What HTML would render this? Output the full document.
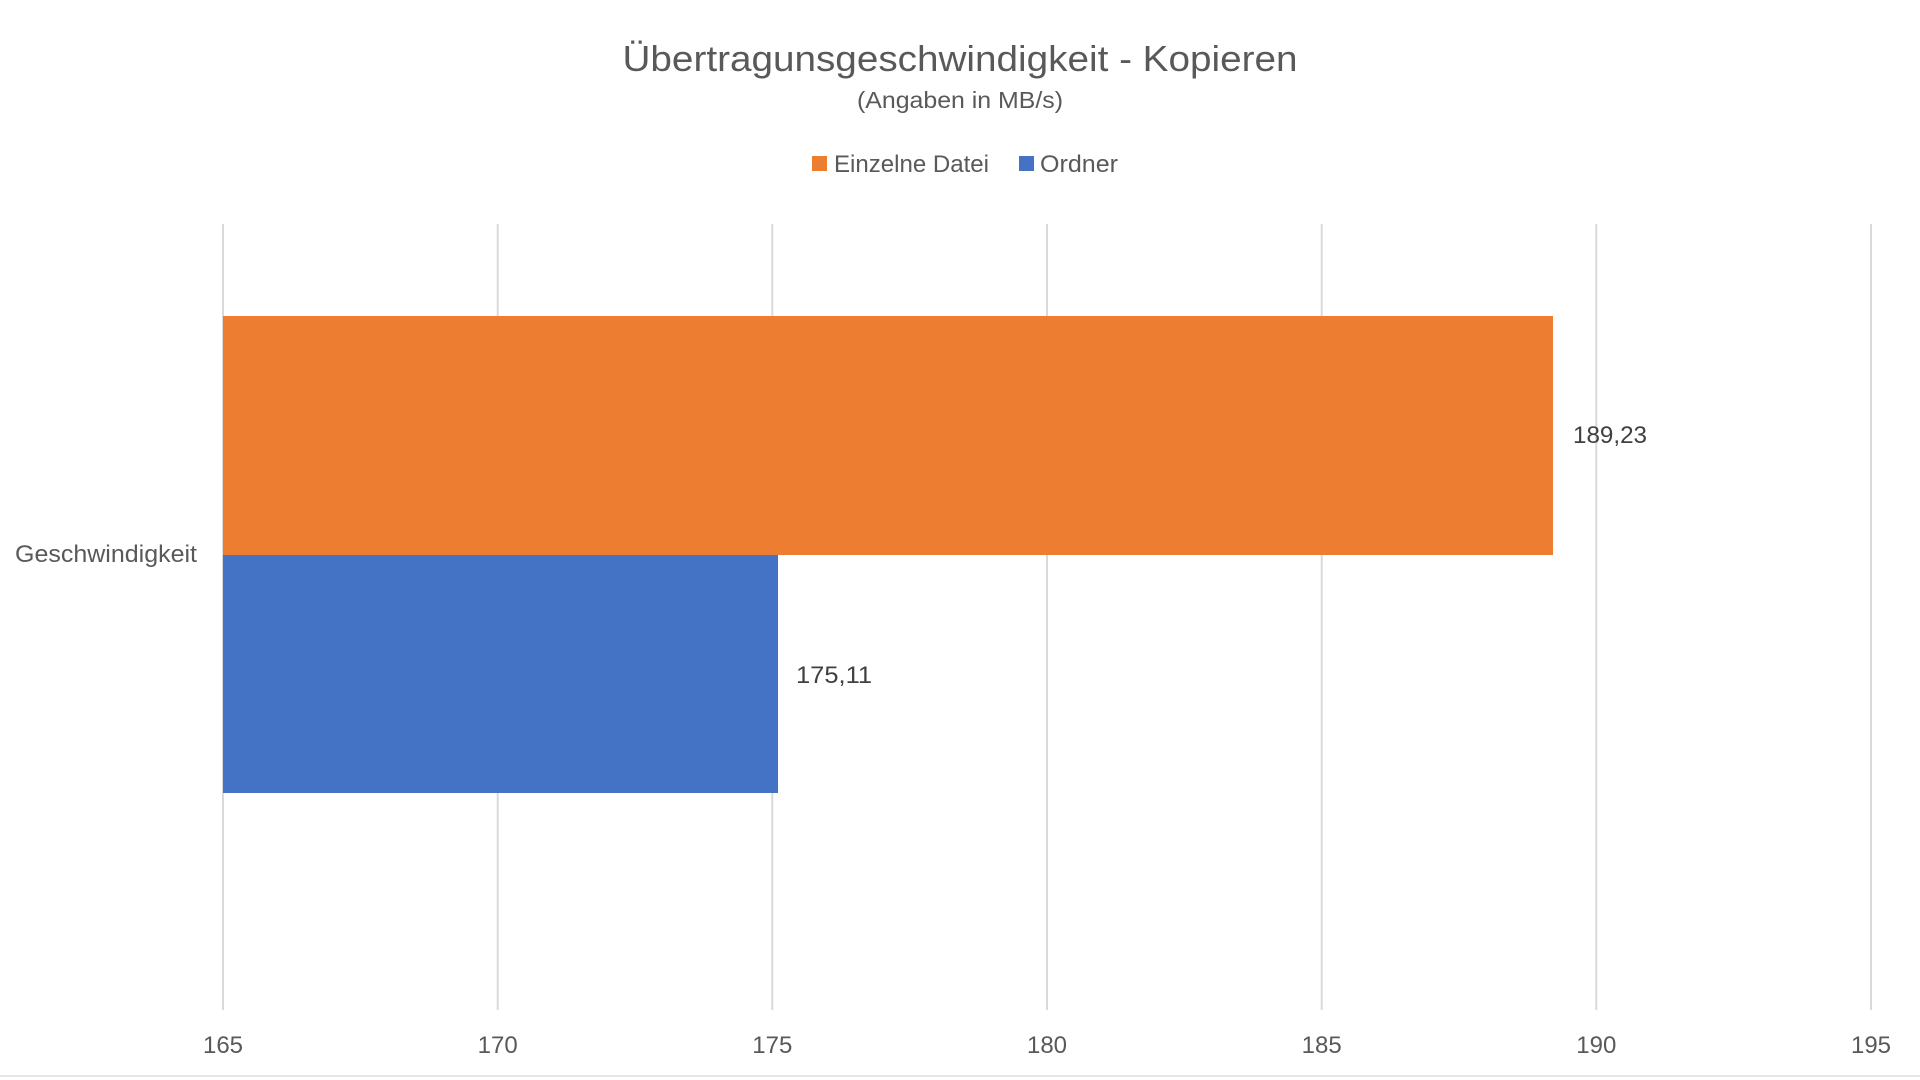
<!DOCTYPE html>
<html><head><meta charset="utf-8"><style>
html,body{margin:0;padding:0;background:#fff;}
svg{display:block;font-family:"Liberation Sans",sans-serif;}
</style></head><body>
<svg width="1920" height="1080" viewBox="0 0 1920 1080" xmlns="http://www.w3.org/2000/svg">
<rect width="1920" height="1080" fill="#fff"/>
<line x1="0" y1="1076" x2="1920" y2="1076" stroke="#e6e6e6" stroke-width="2"/>
<text x="960" y="71" text-anchor="middle" font-size="36" fill="#595959" textLength="675" lengthAdjust="spacingAndGlyphs">Übertragunsgeschwindigkeit - Kopieren</text>
<text x="960" y="108" text-anchor="middle" font-size="23" fill="#595959" textLength="206" lengthAdjust="spacingAndGlyphs">(Angaben in MB/s)</text>
<rect x="812" y="156" width="15" height="15" fill="#ED7D31"/>
<text x="834" y="172" font-size="24" fill="#595959" textLength="155" lengthAdjust="spacingAndGlyphs">Einzelne Datei</text>
<rect x="1019" y="156" width="15" height="15" fill="#4472C4"/>
<text x="1040" y="172" font-size="24" fill="#595959" textLength="78" lengthAdjust="spacingAndGlyphs">Ordner</text>
<g stroke="#d9d9d9" stroke-width="2">
<line x1="223" y1="224" x2="223" y2="1010"/>
<line x1="497.7" y1="224" x2="497.7" y2="1010"/>
<line x1="772.3" y1="224" x2="772.3" y2="1010"/>
<line x1="1047" y1="224" x2="1047" y2="1010"/>
<line x1="1321.7" y1="224" x2="1321.7" y2="1010"/>
<line x1="1596.3" y1="224" x2="1596.3" y2="1010"/>
<line x1="1871" y1="224" x2="1871" y2="1010"/>
</g>
<rect x="223" y="316" width="1330" height="239" fill="#ED7D31"/>
<rect x="223" y="555" width="555" height="238" fill="#4472C4"/>
<g font-size="24" fill="#595959" text-anchor="middle">
<text x="223" y="1053">165</text>
<text x="497.7" y="1053">170</text>
<text x="772.3" y="1053">175</text>
<text x="1047" y="1053">180</text>
<text x="1321.7" y="1053">185</text>
<text x="1596.3" y="1053">190</text>
<text x="1871" y="1053">195</text>
</g>
<text x="15" y="562" font-size="24" fill="#595959" textLength="182" lengthAdjust="spacingAndGlyphs">Geschwindigkeit</text>
<text x="1573" y="443" font-size="24" fill="#404040" textLength="74" lengthAdjust="spacingAndGlyphs">189,23</text>
<text x="796" y="683" font-size="24" fill="#404040" textLength="76" lengthAdjust="spacingAndGlyphs">175,11</text>
</svg>
</body></html>
